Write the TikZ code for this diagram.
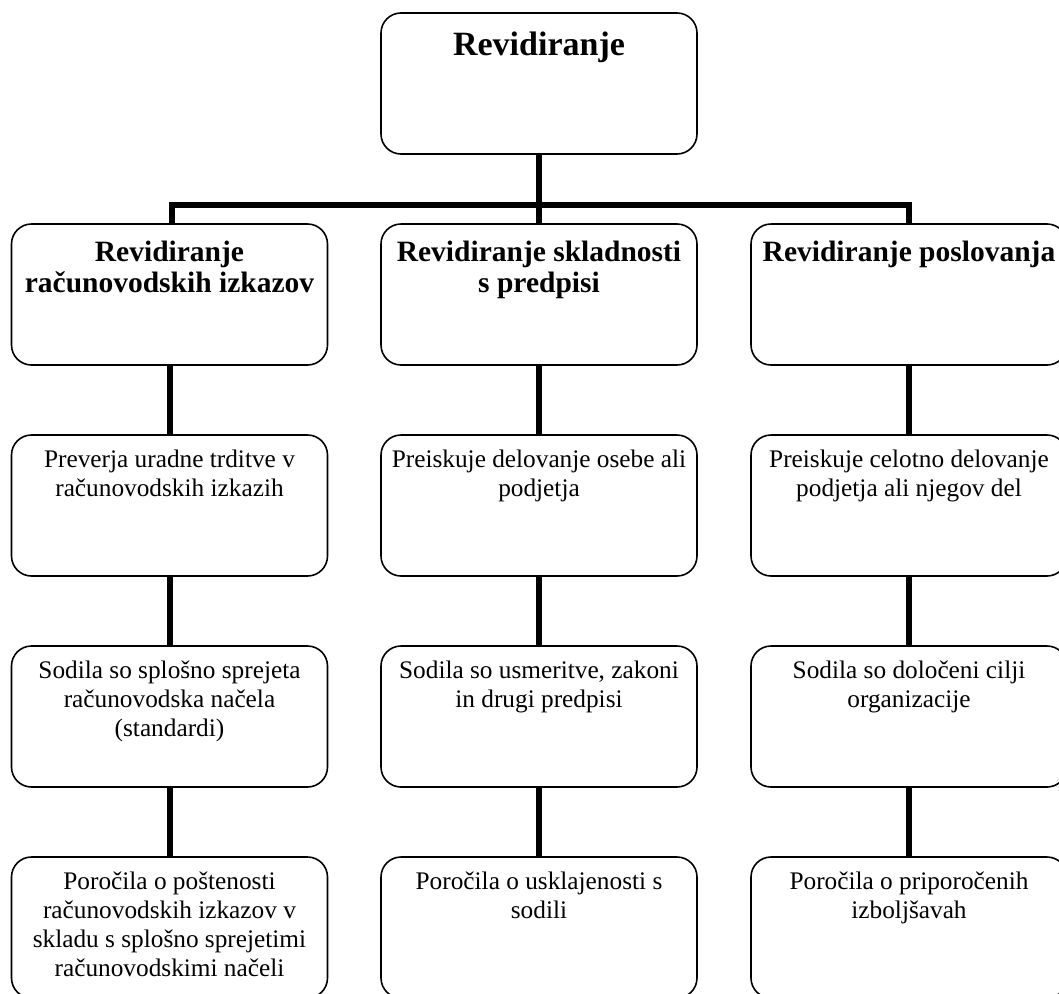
\documentclass[tikz,border=0pt]{standalone}
\usepackage{fontspec}
\setmainfont{Liberation Serif}
\newcommand\boxtext[3]{\parbox[c][141pt][t]{316pt}{\centering\fontsize{#1}{#2}\selectfont #3\par}}
\newcommand\bodytext[1]{\boxtext{25.3pt}{29pt}{\rule{0pt}{32pt}#1}}
\newcommand\headtext[1]{\boxtext{29.5pt}{31pt}{\bfseries\rule{0pt}{37pt}#1}}
\begin{document}
\begin{tikzpicture}[x=1pt,y=-1pt,
  boxnode/.style={draw=black, line width=1.6pt, rounded corners=20pt, fill=white, inner sep=0pt, outer sep=0pt},
  conn/.style={line width=6pt, line join=miter, line cap=butt}]
\useasboundingbox (0,0) rectangle (1059,993);
% top
\node[boxnode] (top) at (539,83.5) {\boxtext{34pt}{38pt}{\bfseries\rule{0pt}{42pt}Revidiranje}};
% headers
\node[boxnode] (h1) at (169.5,294.5) {\headtext{Revidiranje\\računovodskih izkazov}};
\node[boxnode] (h2) at (539,294.5) {\headtext{Revidiranje skladnosti\\s predpisi}};
\node[boxnode] (h3) at (909,294.5) {\headtext{Revidiranje poslovanja}};
% row 2
\node[boxnode] (a1) at (169.5,505.5) {\bodytext{Preverja uradne trditve v\\računovodskih izkazih}};
\node[boxnode] (a2) at (539,505.5) {\bodytext{Preiskuje delovanje osebe ali\\podjetja}};
\node[boxnode] (a3) at (909,505.5) {\bodytext{Preiskuje celotno delovanje\\podjetja ali njegov del}};
% row 3
\node[boxnode] (b1) at (169.5,716.5) {\bodytext{Sodila so splošno sprejeta\\računovodska načela\\(standardi)}};
\node[boxnode] (b2) at (539,716.5) {\bodytext{Sodila so usmeritve, zakoni\\in drugi predpisi}};
\node[boxnode] (b3) at (909,716.5) {\bodytext{Sodila so določeni cilji\\organizacije}};
% row 4
\node[boxnode] (c1) at (169.5,927.5) {\bodytext{Poročila o poštenosti\\računovodskih izkazov v\\skladu s splošno sprejetimi\\računovodskimi načeli}};
\node[boxnode] (c2) at (539,927.5) {\bodytext{Poročila o usklajenosti s\\sodili}};
\node[boxnode] (c3) at (909,927.5) {\bodytext{Poročila o priporočenih\\izboljšavah}};
% connectors
\coordinate (bar) at (539,205);
\draw[conn] (top.south) -- (h2.north);
\draw[conn] ([xshift=2pt]h1.north) -- ([xshift=2pt]h1.north |- bar) -- (h3.north |- bar) -- (h3.north);
\foreach \c in {1,2,3}{
  \draw[conn] (h\c.south) -- (a\c.north);
  \draw[conn] (a\c.south) -- (b\c.north);
  \draw[conn] (b\c.south) -- (c\c.north);
}
\end{tikzpicture}
\end{document}
